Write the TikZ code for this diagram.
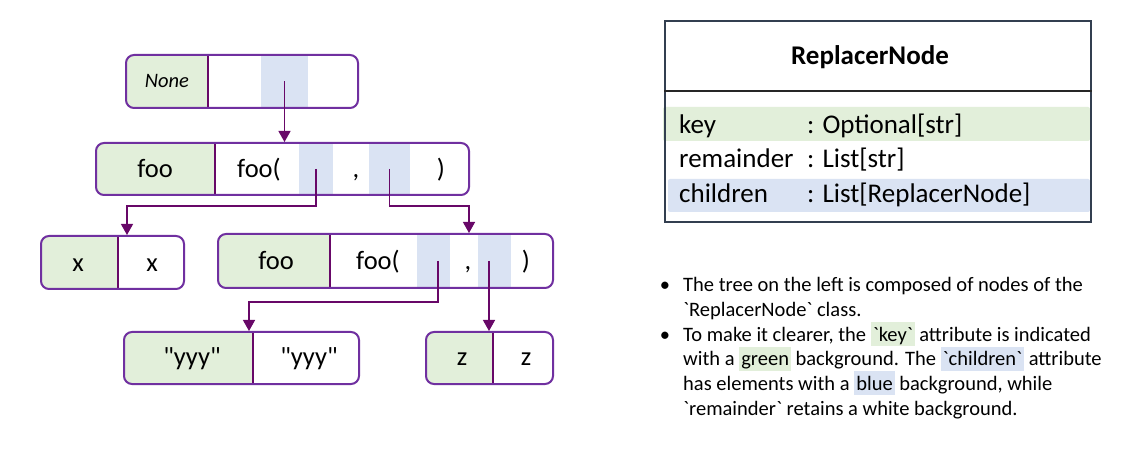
\documentclass[tikz,border=0pt]{standalone}
\usepackage{fontspec}
\setmainfont{Carlito}[Ligatures=TeXOff]
\usetikzlibrary{arrows.meta,fit}
\definecolor{keyfill}{HTML}{E2EFDA}
\definecolor{childfill}{HTML}{DAE3F3}
\definecolor{boxline}{HTML}{7030A0}
\definecolor{linkcol}{HTML}{680868}
\definecolor{classline}{HTML}{333F50}
\newcommand{\hlbox}[2]{{\setlength{\fboxsep}{0pt}\colorbox{#1}{\rule[-5pt]{0pt}{24pt}\hspace{2pt}#2\hspace{2pt}}}}
\newcommand{\keypart}[5]{%
  \begin{scope}
    \clip[rounded corners=8pt] (#1,#2) rectangle (#3,#4);
    \fill[keyfill] (#1,#2) rectangle (#5,#4);
  \end{scope}}
\begin{document}
\begin{tikzpicture}[x=1pt,y=-1pt,
  treebox/.style={draw=boxline, line width=2pt, rounded corners=8pt, inner sep=0pt},
  stripe/.style={fill=childfill, inner sep=0pt},
  link/.style={draw=linkcol, line width=1.3pt, -{Triangle[width=12pt,length=11pt]}},
  divider/.style={draw=linkcol, line width=1.1pt},
  boxtxt/.style={font=\fontsize{26.5}{30}\selectfont, anchor=base, inner sep=0pt},
  attrtxt/.style={font=\fontsize{27}{32}\selectfont, anchor=base west, inner sep=0pt},
  bodytxt/.style={font=\fontsize{20.5}{24.6}\selectfont, anchor=base west, inner sep=0pt},
  bullet/.style={font=\fontsize{20.5}{24.6}\selectfont, anchor=base, inner sep=0pt}]
\useasboundingbox[fill=white] (0,0) rectangle (1138,454);

% ---------- tree node 1 ----------
\keypart{126}{55}{358}{108}{208}
\node[stripe, fit={(261,55) (308,108)}] (s11) {};
\draw[divider] (208,55) -- (208,108);
\node[treebox, fit={(126,55) (358,108)}] (n1) {};
\node[font=\itshape\fontsize{20.5}{24}\selectfont, anchor=base, inner sep=0pt] (t1a) at (167,88) {None};

% ---------- tree node 2 ----------
\keypart{96}{143}{469}{195}{215}
\node[stripe, fit={(299,143) (333,195)}] (s21) {};
\node[stripe, fit={(369,143) (410,195)}] (s22) {};
\draw[divider] (215,143) -- (215,195);
\node[treebox, fit={(96,143) (469,195)}] (n2) {};
\node[boxtxt] (t2a) at (155,178) {foo};
\node[boxtxt, anchor=base west] (t2b) at (237,178) {foo(};
\node[boxtxt] (t2c) at (356,178) {,};
\node[boxtxt] (t2d) at (441,178) {)};

% ---------- tree node 3 ----------
\keypart{41}{236}{184}{289}{118}
\draw[divider] (118,236) -- (118,289);
\node[treebox, fit={(41,236) (184,289)}] (n3) {};
\node[boxtxt] (t3a) at (78,272) {x};
\node[boxtxt] (t3b) at (152,272) {x};

% ---------- tree node 4 ----------
\keypart{218}{234}{553}{288}{330}
\node[stripe, fit={(417,234) (450,288)}] (s41) {};
\node[stripe, fit={(478,234) (511,288)}] (s42) {};
\draw[divider] (330,234) -- (330,288);
\node[treebox, fit={(218,234) (553,288)}] (n4) {};
\node[boxtxt] (t4a) at (276,270) {foo};
\node[boxtxt, anchor=base west] (t4b) at (356,270) {foo(};
\node[boxtxt] (t4c) at (468,270) {,};
\node[boxtxt] (t4d) at (526,270) {)};

% ---------- tree node 5 ----------
\keypart{124}{332}{359}{384}{253}
\draw[divider] (253,332) -- (253,384);
\node[treebox, fit={(124,332) (359,384)}] (n5) {};
\node[boxtxt] (t5a) at (192,366) {"yyy"};
\node[boxtxt] (t5b) at (309,366) {"yyy"};

% ---------- tree node 6 ----------
\keypart{426}{332}{553}{384}{493}
\draw[divider] (493,332) -- (493,384);
\node[treebox, fit={(426,332) (553,384)}] (n6) {};
\node[boxtxt] (t6a) at (462,366) {z};
\node[boxtxt] (t6b) at (526,366) {z};

% ---------- connectors ----------
\coordinate (j1) at (127,206);
\coordinate (j2) at (469,206);
\coordinate (j3) at (249,302);
\coordinate (e41) at ([xshift=4.5pt]s41.center);
\coordinate (e42) at ([xshift=-5.5pt]s42.center);
\draw[link] (s11.center) -- (s11.center |- n2.north);
\draw[link] (s21.center) |- (j1) -- (j1 |- n3.north);
\draw[link] (s22.center) |- (j2) -- (j2 |- n4.north);
\draw[link] (e41) |- (j3) -- (j3 |- n5.north);
\draw[link] (e42) -- (e42 |- n6.north);

% ---------- class box ----------
\node[fill=keyfill, rounded corners=2pt, inner sep=0pt, fit={(663,107) (1090,141)}] (keybar) {};
\node[fill=childfill, rounded corners=2pt, inner sep=0pt, fit={(668,179) (1090,212)}] (childbar) {};
\node[draw=classline, line width=2pt, inner sep=0pt, fit={(665,21) (1091,222)}] (cls) {};
\coordinate (dv) at (0,91);
\draw[line width=2pt, black!85] (cls.west |- dv) -- (cls.east |- dv);
\node[font=\bfseries\fontsize{27}{32}\selectfont, anchor=base, inner sep=0pt] (title) at (870,65) {ReplacerNode};
\node[attrtxt] (a1) at (679,134) {key};
\node[attrtxt] (a1t) at (807,134) {: Optional[str]};
\node[attrtxt] (a2) at (679,168) {remainder};
\node[attrtxt] (a2t) at (807,168) {: List[str]};
\node[attrtxt] (a3) at (679,203) {children};
\node[attrtxt] (a3t) at (807,203) {: List[ReplacerNode]};

% ---------- notes ----------
\node[bullet] (bul1) at (665,292) {•};
\node[bullet] (bul2) at (665,341.2) {•};
\node[bodytxt] (l1) at (683,292) {The tree on the left is composed of nodes of the};
\node[bodytxt] (l2) at (683,316.6) {`ReplacerNode` class.};
\node[bodytxt] (l3) at (683,341.2) {To make it clearer, the \hlbox{keyfill}{`key`} attribute is indicated};
\node[bodytxt] (l4) at (683,365.8) {with a \hlbox{keyfill}{green} background. The \hlbox{childfill}{`children`} attribute};
\node[bodytxt] (l5) at (683,390.4) {has elements with a \hlbox{childfill}{blue} background, while};
\node[bodytxt] (l6) at (683,415) {`remainder` retains a white background.};
\end{tikzpicture}
\end{document}
